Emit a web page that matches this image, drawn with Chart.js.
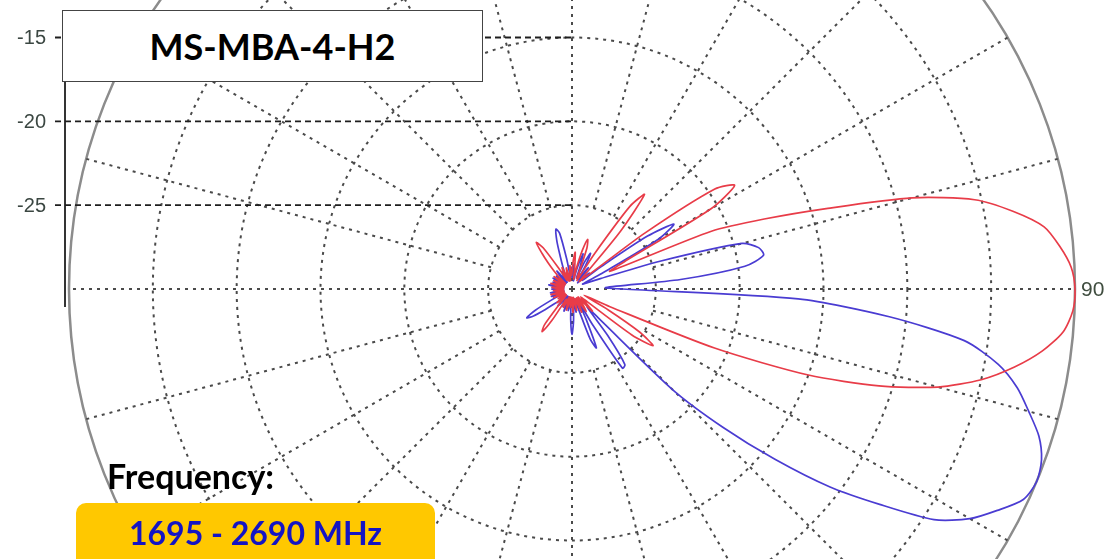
<!DOCTYPE html>
<html>
<head>
<meta charset="utf-8">
<script src="https://cdn.jsdelivr.net/npm/chart.js@4.4.0/dist/chart.umd.min.js"></script>
<style>
    html, body { margin: 0; padding: 0; background: #fff; }
    body { width: 1110px; height: 559px; overflow: hidden; position: relative; font-family: Lato, "Open Sans", sans-serif; }
    #polar { position: absolute; left: 0; top: -214px; }
    .title-box {
        position: absolute; left: 62px; top: 10px; width: 419px; height: 70px;
        background: #fff; border: 1.5px solid #444;
        display: flex; align-items: center; justify-content: center;
        font-weight: 700; font-size: 36px; color: #000;
    }
    .freq-label {
        position: absolute; left: 107px; top: 455px;
        font-weight: 700; font-size: 34px; color: #000;
    }
    .freq-box {
        position: absolute; left: 76px; top: 503px; width: 359px; height: 70px;
        background: #ffc800; border-radius: 10px;
    }
    .freq-box span {
        position: absolute; left: 0; right: 0; top: 10px; text-align: center;
        font-weight: 700; font-size: 32px; color: #1414c4;
    }
</style>
</head>
<body>
<canvas id="polar" width="1110" height="1006"></canvas>
<div class="title-box">MS-MBA-4-H2</div>
<div class="freq-label">Frequency:</div>
<div class="freq-box"><span>1695 - 2690 MHz</span></div>

<script>
// Angles (deg, clockwise from top) - one category every 2.5 deg
const ANGLE_STEP = 2.5;
const ANGLES = Array.from({ length: 144 }, (_, i) => i * ANGLE_STEP);

// Pattern levels in dB, one row = 30 deg
const RED_DB = [
    -29.0, -28.3, -27.8, -28.8, -29.4, -28.6, -27.6, -26.9, -27.4, -28.8, -29.3, -29.0,
    -29.4, -27.5, -24.0, -22.9, -25.5, -29.0, -29.4, -29.0, -28.6, -24.5, -19.6, -18.5,
    -20.4, -26.5, -27.5, -21.0, -17.8, -14.0, -9.0, -5.4, -3.3, -1.6, -0.8, -0.2,
    0.0, -0.1, -0.6, -1.7, -3.2, -5.0, -7.4, -10.8, -15.0, -20.8, -27.5, -29.2,
    -27.5, -25.2, -24.1, -25.5, -28.8, -29.3, -28.8, -28.2, -29.0, -29.4, -28.9, -28.4,
    -28.9, -29.4, -29.0, -28.5, -29.1, -29.4, -29.2, -28.7, -29.3, -29.5, -29.0, -28.6,
    -29.2, -29.5, -28.9, -29.3, -29.5, -29.0, -28.7, -29.2, -29.5, -29.1, -28.8, -29.2,
    -29.3, -27.8, -26.9, -27.3, -29.0, -29.5, -29.1, -28.8, -29.3, -29.5, -29.0, -29.3,
    -29.5, -29.1, -28.8, -29.3, -29.5, -29.0, -28.7, -29.2, -29.5, -29.1, -28.9, -29.4,
    -29.5, -29.0, -28.8, -29.3, -29.5, -29.1, -28.7, -29.2, -29.5, -29.0, -28.8, -29.3,
    -29.5, -29.1, -28.7, -29.2, -29.5, -29.0, -28.5, -27.9, -27.2, -26.5, -27.0, -28.6,
    -29.4, -29.0, -28.6, -29.2, -29.5, -29.0, -28.7, -29.3, -29.5, -29.1, -28.6, -29.2
];

const BLUE_DB = [
    -29.3, -29.0, -28.5, -29.2, -29.5, -29.0, -28.4, -27.8, -28.6, -29.3, -28.2, -27.6,
    -28.4, -29.3, -29.0, -28.4, -29.2, -29.5, -29.0, -28.6, -29.2, -27.8, -24.5, -22.8,
    -24.0, -28.0, -29.3, -29.0, -28.2, -24.5, -19.5, -18.6, -18.4, -19.6, -23.5, -28.0,
    -27.0, -16.5, -11.0, -6.4, -4.2, -2.8, -1.8, -0.8, -0.2, 0.0, -0.3, -1.4,
    -2.6, -4.4, -7.6, -10.6, -14.2, -17.8, -21.5, -27.5, -28.6, -26.5, -24.5, -24.4,
    -27.5, -29.2, -28.0, -26.2, -26.8, -28.9, -29.4, -29.0, -28.6, -29.2, -28.9, -28.0,
    -27.3, -28.2, -29.3, -29.0, -28.7, -29.3, -29.5, -29.0, -28.6, -29.2, -29.5, -29.1,
    -28.8, -29.3, -29.5, -29.0, -28.7, -29.3, -29.5, -29.0, -28.6, -28.0, -27.2, -26.8,
    -27.5, -28.9, -29.4, -29.0, -28.7, -29.3, -29.5, -29.0, -28.7, -29.2, -29.5, -29.1,
    -28.8, -29.3, -29.5, -29.0, -28.6, -29.2, -29.5, -29.1, -28.8, -29.3, -29.5, -29.0,
    -28.7, -29.2, -29.5, -29.1, -28.8, -29.3, -29.5, -29.0, -28.6, -29.2, -29.5, -29.1,
    -28.8, -29.3, -29.0, -28.6, -28.0, -27.0, -26.3, -26.6, -28.2, -29.3, -29.0, -28.7
];

// Radial scale
const DB_MIN = -30;
const DB_MAX = 0;
const DB_STEP = 5;
const LEFT_AXIS_TICKS = [-15, -20, -25];
const SPOKE_EVERY_DEG = 15;
const AXIS_EVERY_DEG = 90;
const SPOKE_START_DB = -25;
const MARKED_ANGLE = 90;

const GRID_COLOR = '#4a4a4a';
const GRID_DASH = [3, 5];

// left axis, dashed guide lines, outer spokes and the "90" mark
const polarExtras = {
    id: 'polarExtras',
    beforeDatasetsDraw(chart) {
        const r = chart.scales.r;
        const ctx = chart.ctx;
        const axisX = r.xCenter - 507;
        ctx.save();

        // spokes every 15 deg, starting at the first ring
        ctx.strokeStyle = GRID_COLOR;
        ctx.lineWidth = 2;
        ctx.setLineDash(GRID_DASH);
        const rIn = r.getDistanceFromCenterForValue(SPOKE_START_DB);
        const rOut = r.getDistanceFromCenterForValue(DB_MAX);
        ANGLES.forEach((a, i) => {
            if (a % SPOKE_EVERY_DEG !== 0 || a % AXIS_EVERY_DEG === 0) return;
            const p0 = r.getPointPosition(i, rIn);
            const p1 = r.getPointPosition(i, rOut);
            ctx.beginPath();
            ctx.moveTo(p0.x, p0.y);
            ctx.lineTo(p1.x, p1.y);
            ctx.stroke();
        });

        // dashed guides from the left axis to the vertical spoke
        ctx.strokeStyle = '#1e1e1e';
        ctx.lineWidth = 1.8;
        ctx.setLineDash([6, 4]);
        LEFT_AXIS_TICKS.forEach(v => {
            const y = r.yCenter - r.getDistanceFromCenterForValue(v);
            ctx.beginPath();
            ctx.moveTo(axisX - 10, y);
            ctx.lineTo(r.xCenter, y);
            ctx.stroke();
        });

        // vertical axis line
        ctx.setLineDash([]);
        ctx.lineWidth = 1.8;
        ctx.beginPath();
        ctx.moveTo(axisX, r.yCenter - 270);
        ctx.lineTo(axisX, r.yCenter + 18);
        ctx.stroke();

        // tick labels
        ctx.fillStyle = '#3b4742';
        ctx.font = '20px "Liberation Sans", Arial, sans-serif';
        ctx.textAlign = 'right';
        ctx.textBaseline = 'middle';
        LEFT_AXIS_TICKS.forEach(v => {
            const y = r.yCenter - r.getDistanceFromCenterForValue(v);
            ctx.fillText(String(v), axisX - 19, y + 1);
        });

        // angle mark
        const idx = ANGLES.indexOf(MARKED_ANGLE);
        const p = r.getPointPosition(idx, rOut + 6);
        ctx.fillStyle = '#3f4d3f';
        ctx.font = '21px "Liberation Sans", Arial, sans-serif';
        ctx.textAlign = 'left';
        ctx.fillText(String(MARKED_ANGLE), p.x, p.y + 1);

        ctx.restore();
    }
};

new Chart(document.getElementById('polar').getContext('2d'), {
    type: 'radar',
    data: {
        labels: ANGLES,
        datasets: [
            {
                label: 'Red',
                data: RED_DB,
                borderColor: '#e83c48',
                borderWidth: 1.7,
                pointRadius: 0,
                fill: false,
                tension: 0.25,
            },
            {
                label: 'Blue',
                data: BLUE_DB,
                borderColor: '#4a3cd2',
                borderWidth: 1.7,
                pointRadius: 0,
                fill: false,
                tension: 0.25,
            }
        ]
    },
    options: {
        responsive: false,
        animation: false,
        devicePixelRatio: 1,
        layout: { padding: { left: 34, right: 0, top: 0, bottom: 0 } },
        plugins: {
            legend: { display: false },
            tooltip: { enabled: false },
        },
        scales: {
            r: {
                min: DB_MIN,
                max: DB_MAX,
                startAngle: 0,
                ticks: { display: false, stepSize: DB_STEP },
                pointLabels: { display: false },
                grid: {
                    circular: true,
                    color: (c) => c.tick && c.tick.value === DB_MAX ? '#8c8c8c' : GRID_COLOR,
                    lineWidth: (c) => c.tick && c.tick.value === DB_MAX ? 2.5 : 2,
                },
                border: {
                    dash: (c) => c.tick && c.tick.value === DB_MAX ? [] : GRID_DASH,
                },
                angleLines: {
                    color: GRID_COLOR,
                    lineWidth: (c) => (ANGLES[c.index] % AXIS_EVERY_DEG === 0 ? 2 : 0),
                    borderDash: GRID_DASH,
                },
            }
        }
    },
    plugins: [polarExtras]
});
</script>
</body>
</html>
